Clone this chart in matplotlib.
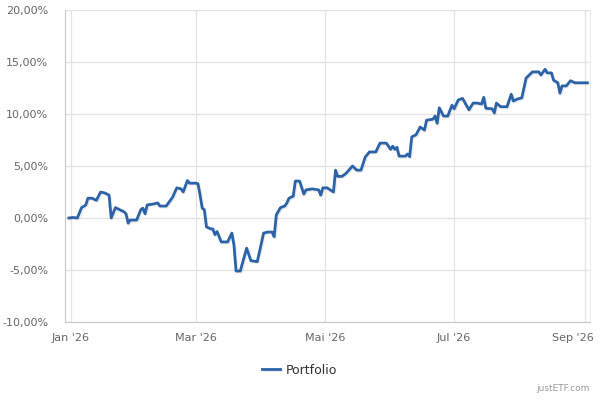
import matplotlib.pyplot as plt
import matplotlib.patheffects as pe
import matplotlib.transforms as mtransforms
import pandas as pd

dates = ['2025-12-31', '2026-01-02', '2026-01-04', '2026-01-06', '2026-01-08', '2026-01-09',
         '2026-01-11', '2026-01-13', '2026-01-15', '2026-01-17', '2026-01-19', '2026-01-20',
         '2026-01-22', '2026-01-24', '2026-01-26', '2026-01-27', '2026-01-28', '2026-01-29',
         '2026-02-01', '2026-02-03', '2026-02-04', '2026-02-05', '2026-02-06', '2026-02-09',
         '2026-02-11', '2026-02-12', '2026-02-15', '2026-02-18', '2026-02-20', '2026-02-22',
         '2026-02-23', '2026-02-25', '2026-02-26', '2026-03-01', '2026-03-02', '2026-03-03',
         '2026-03-04', '2026-03-05', '2026-03-06', '2026-03-08', '2026-03-09', '2026-03-10',
         '2026-03-11', '2026-03-12', '2026-03-13', '2026-03-16', '2026-03-18', '2026-03-19',
         '2026-03-20', '2026-03-22', '2026-03-23', '2026-03-25', '2026-03-27', '2026-03-30',
         '2026-03-31', '2026-04-02', '2026-04-04', '2026-04-06', '2026-04-07', '2026-04-08',
         '2026-04-10', '2026-04-12', '2026-04-13', '2026-04-14', '2026-04-16', '2026-04-17',
         '2026-04-19', '2026-04-21', '2026-04-22', '2026-04-25', '2026-04-28', '2026-04-29',
         '2026-04-30', '2026-05-02', '2026-05-05', '2026-05-06', '2026-05-07', '2026-05-09',
         '2026-05-11', '2026-05-14', '2026-05-16', '2026-05-18', '2026-05-20', '2026-05-22',
         '2026-05-25', '2026-05-27', '2026-05-30', '2026-06-01', '2026-06-02', '2026-06-03',
         '2026-06-04', '2026-06-05', '2026-06-08', '2026-06-09', '2026-06-10', '2026-06-11',
         '2026-06-13', '2026-06-15', '2026-06-17', '2026-06-18', '2026-06-21', '2026-06-22',
         '2026-06-23', '2026-06-24', '2026-06-26', '2026-06-28', '2026-06-30', '2026-07-01',
         '2026-07-03', '2026-07-05', '2026-07-08', '2026-07-10', '2026-07-12', '2026-07-14',
         '2026-07-15', '2026-07-16', '2026-07-19', '2026-07-20', '2026-07-21', '2026-07-23',
         '2026-07-26', '2026-07-28', '2026-07-29', '2026-07-31', '2026-08-02', '2026-08-04',
         '2026-08-05', '2026-08-07', '2026-08-10', '2026-08-11', '2026-08-13', '2026-08-14',
         '2026-08-16', '2026-08-17', '2026-08-19', '2026-08-20', '2026-08-21', '2026-08-23',
         '2026-08-25', '2026-08-27', '2026-09-02']

portfolio = [0.0, 0.05, 0.0, 1.0, 1.25, 1.9,
             1.9, 1.7, 2.5, 2.4, 2.2, 0.0,
             1.0, 0.8, 0.6, 0.4, -0.5, -0.2,
             -0.2, 0.8, 0.95, 0.4, 1.25, 1.35,
             1.45, 1.15, 1.15, 2.0, 2.9, 2.8,
             2.5, 3.6, 3.35, 3.35, 3.3, 2.2,
             0.95, 0.8, -0.85, -1.05, -1.05, -1.6,
             -1.3, -1.8, -2.3, -2.3, -1.45, -2.6,
             -5.1, -5.1, -4.35, -2.9, -4.1, -4.2,
             -3.3, -1.45, -1.35, -1.35, -1.8, 0.3,
             1.0, 1.15, 1.45, 1.9, 2.1, 3.55,
             3.55, 2.3, 2.7, 2.8, 2.7, 2.2,
             2.9, 2.9, 2.5, 4.6, 4.0, 4.0,
             4.3, 5.0, 4.6, 4.6, 5.85, 6.35,
             6.35, 7.2, 7.2, 6.6, 6.9, 6.6,
             6.8, 5.95, 5.95, 6.15, 5.9, 7.8,
             8.0, 8.75, 8.45, 9.4, 9.5, 9.8,
             9.1, 10.6, 9.8, 9.8, 10.85, 10.5,
             11.35, 11.5, 10.4, 11.05, 11.05, 10.95,
             11.6, 10.55, 10.5, 10.1, 11.05, 10.7,
             10.7, 11.9, 11.25, 11.45, 11.55, 13.45,
             13.65, 14.05, 14.05, 13.75, 14.3, 13.95,
             13.95, 13.25, 13.0, 12.0, 12.7, 12.7,
             13.2, 13.0, 13.0]

tick_dates = ['2026-01-01', '2026-03-01', '2026-05-01', '2026-07-01', '2026-09-01']
tick_labels = ["Jan '26", "Mar '26", "Mai '26", "Jul '26", "Sep '26"]
y_ticks = [-10, -5, 0, 5, 10, 15, 20]

x = pd.to_datetime(dates)

fig = plt.figure(figsize=(6, 4), dpi=100)
ax = fig.add_axes([0.1083, 0.195, 0.875, 0.78])

line_col = '#2b62a8'
grid_col = '#e3e3e3'

ax.plot(x, portfolio, color=line_col, lw=2.0, solid_joinstyle='round',
        path_effects=[pe.SimpleLineShadow(offset=(0.8, -0.8), shadow_color='#000000', alpha=0.08),
                      pe.Normal()], zorder=3)

start = pd.Timestamp('2026-01-01')
ax.set_xlim(start - pd.Timedelta(days=2.83), start + pd.Timedelta(days=245.2))
ax.set_ylim(-10, 20)

ax.set_xticks(pd.to_datetime(tick_dates))
ax.set_xticklabels(tick_labels)
ax.set_yticks(y_ticks)
ax.set_yticklabels(['{:.2f}%'.format(v).replace('.', ',') for v in y_ticks])

ax.grid(True, color=grid_col, lw=0.9, zorder=0)
ax.tick_params(axis='both', length=0, labelsize=8, labelcolor='#666666')
ax.tick_params(axis='y', pad=12)
ax.tick_params(axis='x', pad=8)

# last label pulled inside like the reference
last = ax.get_xticklabels()[-1]
last.set_transform(last.get_transform() + mtransforms.ScaledTranslation(-12 / 100, 0, fig.dpi_scale_trans))

ax.spines['top'].set_visible(False)
ax.spines['left'].set_color('#c8c8c8')
ax.spines['bottom'].set_color('#c8c8c8')
ax.spines['right'].set_color('#ececec')

leg = fig.legend(['Portfolio'], loc='center', bbox_to_anchor=(0.5, 0.075), frameon=False,
                 fontsize=9, handlelength=1.4, handletextpad=0.5)
for t in leg.get_texts():
    t.set_color('#333333')

fig.text(0.983, 0.028, 'justETF.com', ha='right', va='center', fontsize=6.5, color='#999999')

fig.savefig('out.png', dpi=100)
